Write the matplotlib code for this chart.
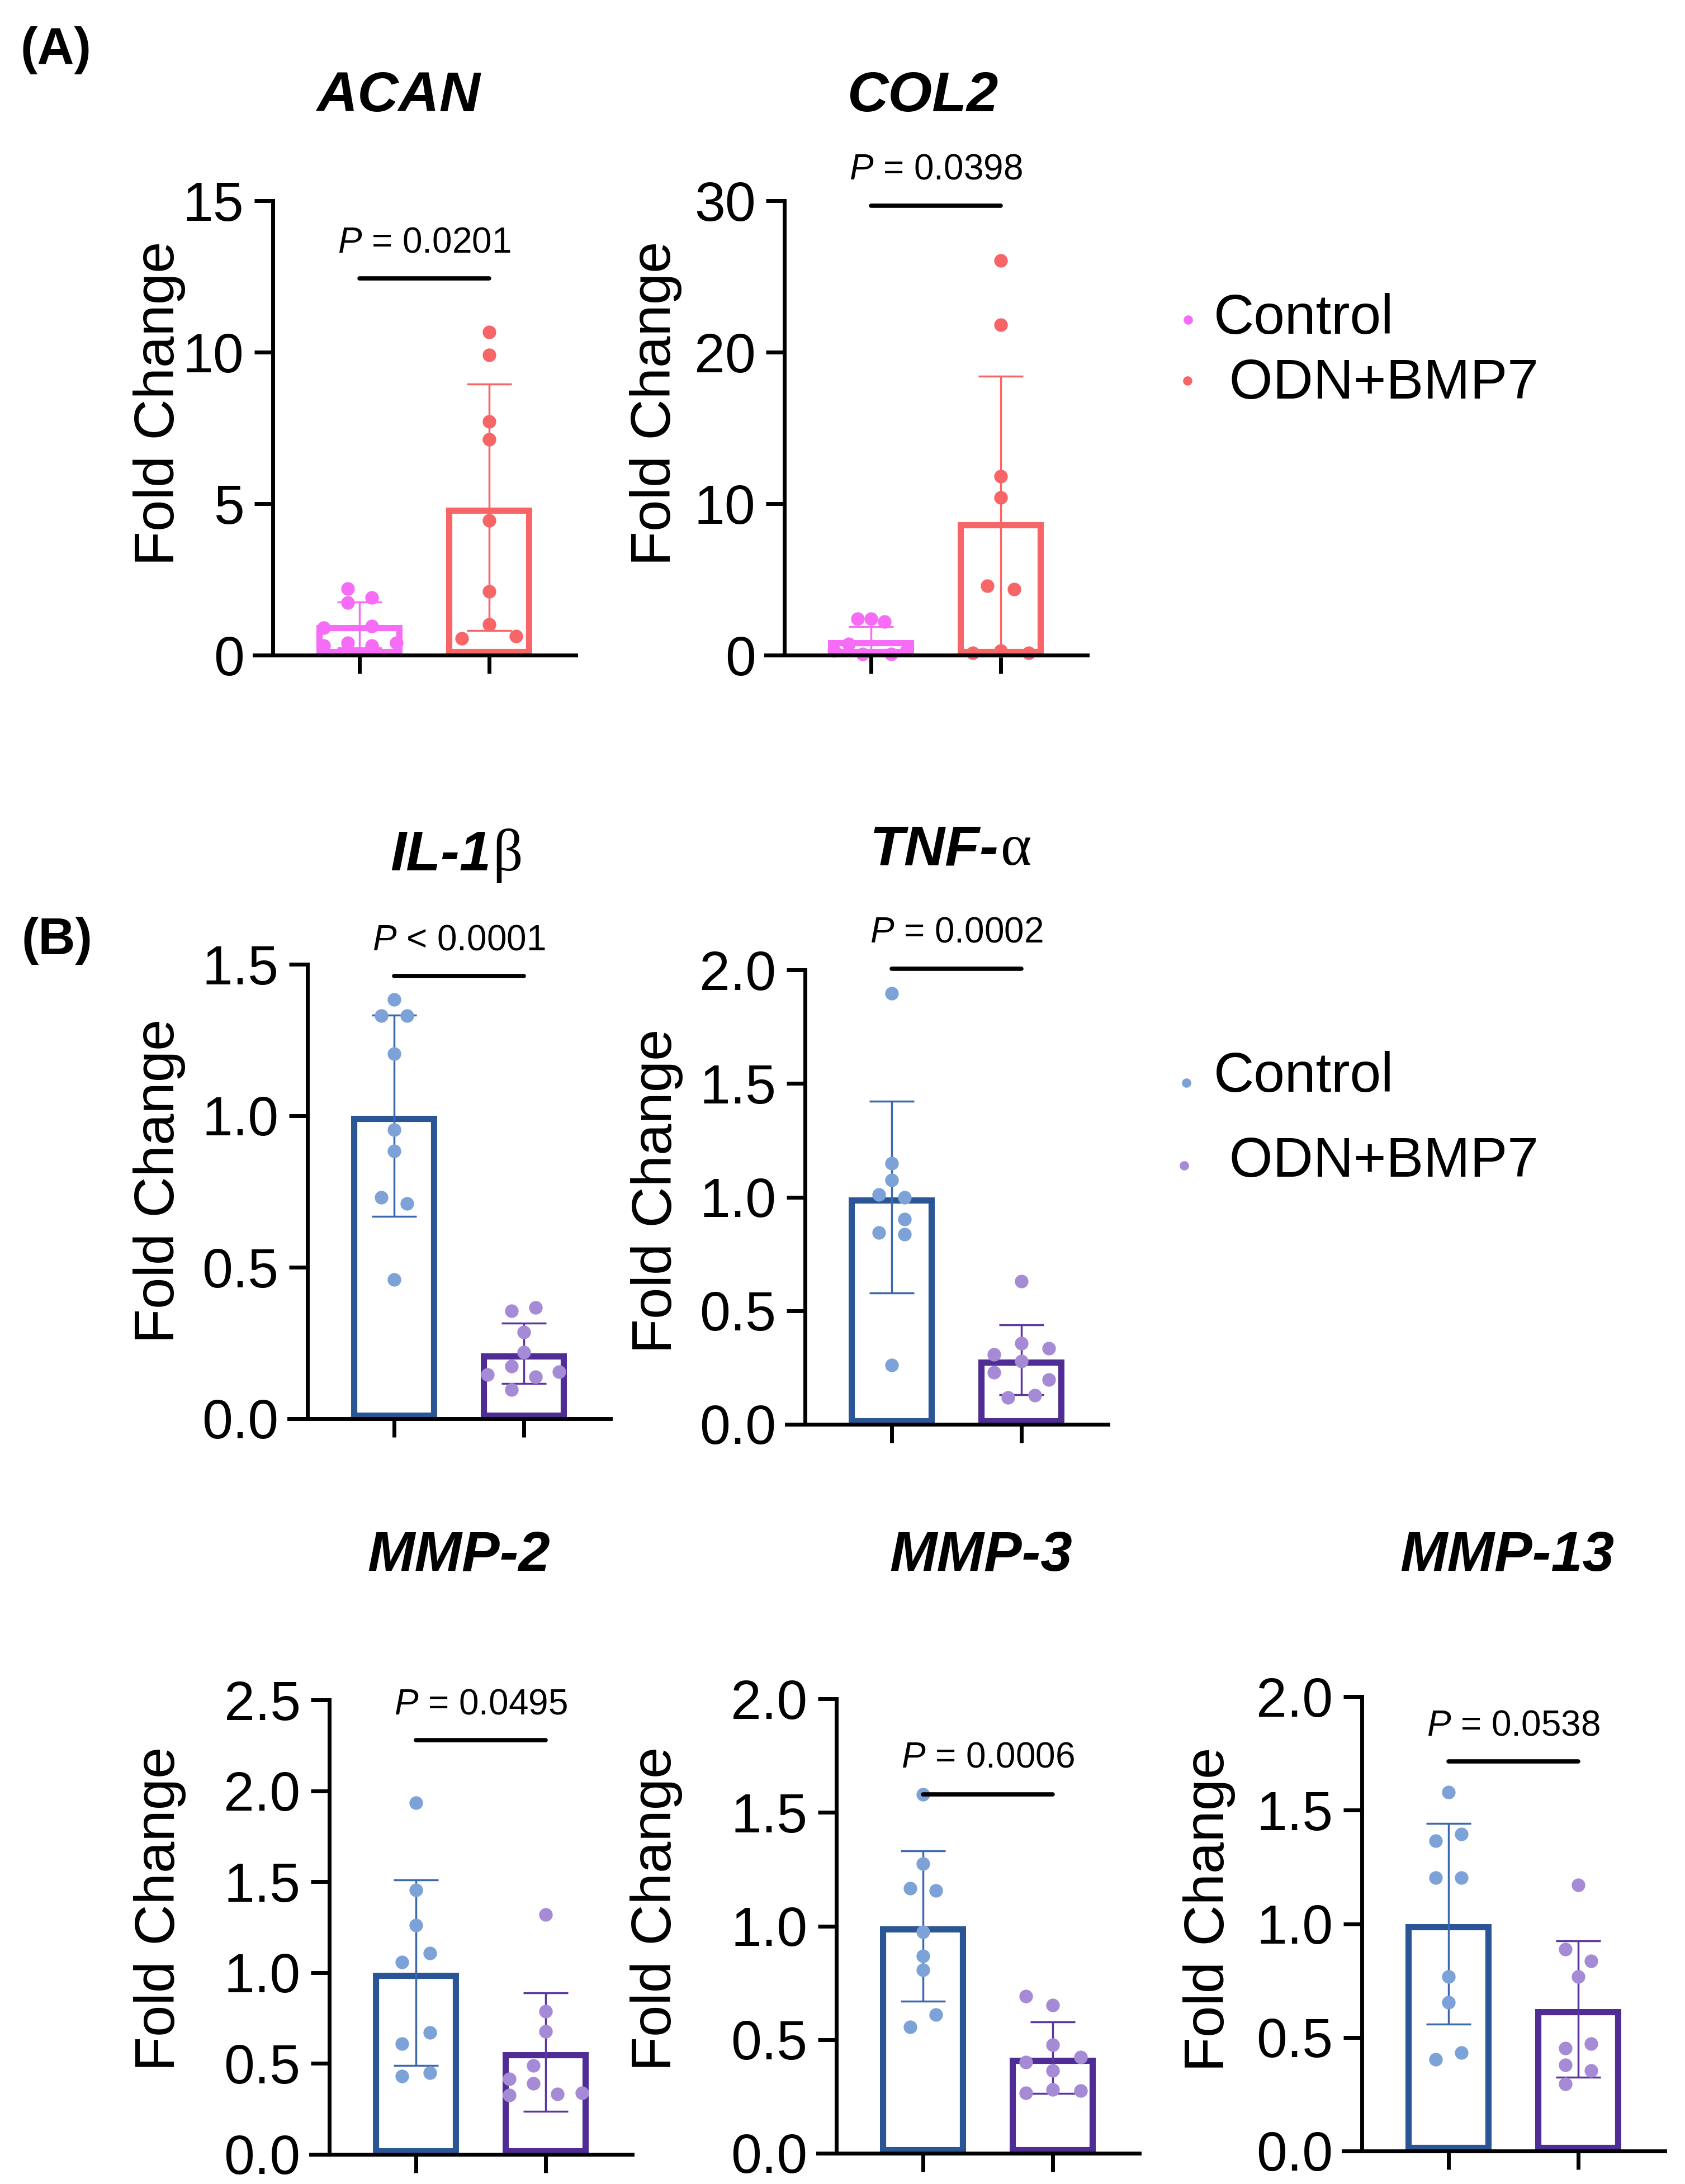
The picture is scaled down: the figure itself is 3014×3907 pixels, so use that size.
import matplotlib.pyplot as plt
from matplotlib.lines import Line2D

plt.rcParams['font.family'] = ['Liberation Sans', 'DejaVu Sans']
plt.rcParams['mathtext.fontset'] = 'custom'
plt.rcParams['mathtext.rm'] = 'Liberation Sans'
plt.rcParams['mathtext.it'] = 'Liberation Sans:italic'

W, H = 3014, 3907

# ---- data ----
genes = ['ACAN', 'COL2', 'IL-1', 'TNF-', 'MMP-2', 'MMP-3', 'MMP-13']
greek = ['', '', 'β', 'α', '', '', '']
p_text = ['$P$ = 0.0201', '$P$ = 0.0398', '$P$ < 0.0001', '$P$ = 0.0002',
          '$P$ = 0.0495', '$P$ = 0.0006', '$P$ = 0.0538']
groups = ['Control', ' ODN+BMP7']

ymax = [15, 30, 1.5, 2.0, 2.5, 2.0, 2.0]
yticks = [[0, 5, 10, 15], [0, 10, 20, 30], [0, 0.5, 1.0, 1.5], [0, 0.5, 1.0, 1.5, 2.0],
          [0, 0.5, 1.0, 1.5, 2.0, 2.5], [0, 0.5, 1.0, 1.5, 2.0], [0, 0.5, 1.0, 1.5, 2.0]]
yticklabels = [['0', '5', '10', '15'], ['0', '10', '20', '30'],
               ['0.0', '0.5', '1.0', '1.5'], ['0.0', '0.5', '1.0', '1.5', '2.0'],
               ['0.0', '0.5', '1.0', '1.5', '2.0', '2.5'],
               ['0.0', '0.5', '1.0', '1.5', '2.0'], ['0.0', '0.5', '1.0', '1.5', '2.0']]

ctrl_vals = [
    [2.2, 1.9, 1.73, 0.96, 0.9, 0.41, 0.31, 0.31, 0.41],
    [2.41, 2.41, 2.2, 0.74, 0.29, 0.09, 0.06, 0.35],
    [1.384, 1.331, 1.331, 1.204, 0.954, 0.883, 0.731, 0.71, 0.459],
    [1.897, 1.148, 1.076, 1.012, 1.0, 0.903, 0.843, 0.837, 0.26],
    [1.933, 1.453, 1.261, 1.059, 1.106, 0.67, 0.608, 0.431, 0.448],
    [1.579, 1.274, 1.166, 1.156, 0.973, 0.869, 0.806, 0.61, 0.555],
    [1.58, 1.366, 1.395, 1.202, 1.202, 0.768, 0.654, 0.404, 0.433],
]
ctrl_dx = [
    [-0.09, 0.095, -0.09, 0.095, -0.276, -0.09, 0.095, -0.276, 0.284],
    [-0.104, 0, 0.104, -0.173, -0.283, -0.063, 0.157, 0.275],
    [0, -0.1, 0.1, 0, 0, 0, -0.1, 0.1, 0],
    [0, 0, 0, -0.1, 0.1, 0.1, -0.1, 0.1, 0],
    [0, 0, 0, -0.106, 0.106, 0.106, -0.106, -0.106, 0.106],
    [0, 0, -0.1, 0.1, 0, 0, 0, 0.1, -0.1],
    [0, -0.1, 0.1, -0.1, 0.1, 0, 0, -0.1, 0.1],
]
odn_vals = [
    [10.66, 9.9, 7.72, 7.13, 4.44, 2.1, 1.02, 0.55, 0.62],
    [26.06, 21.8, 11.8, 10.4, 4.56, 4.35, 0.15, 0.3, 0.15],
    [0.357, 0.367, 0.286, 0.22, 0.174, 0.145, 0.138, 0.155, 0.096],
    [0.63, 0.357, 0.335, 0.307, 0.278, 0.23, 0.198, 0.119, 0.128],
    [1.318, 0.786, 0.677, 0.49, 0.39, 0.416, 0.325, 0.333, 0.337],
    [0.692, 0.653, 0.478, 0.4, 0.423, 0.364, 0.265, 0.281, 0.275],
    [1.172, 0.887, 0.837, 0.768, 0.453, 0.473, 0.378, 0.355, 0.296],
]
odn_dx = [
    [0, 0, 0, 0, 0, 0, 0, -0.21, 0.207],
    [0, 0, 0, 0, -0.104, 0.104, -0.214, 0, 0.214],
    [-0.096, 0.091, 0, 0, -0.096, -0.28, 0.091, 0.27, -0.096],
    [0, 0, 0.21, -0.21, 0, -0.21, 0.21, -0.104, 0.104],
    [0, 0, 0, -0.097, -0.097, -0.281, -0.281, 0.091, 0.281],
    [-0.206, 0, 0, -0.206, 0.214, 0, -0.206, 0, 0.214],
    [0, -0.1, 0.1, 0, -0.1, 0.1, -0.1, 0.1, -0.1],
]
means = [[1.0, 4.88], [1.0, 8.8], [1.0, 0.216], [1.0, 0.285],
         [1.0, 0.563], [1.0, 0.42], [1.0, 0.625]]
sds = [[0.76, 4.07], [0.9, 9.6], [0.333, 0.099], [0.423, 0.154],
       [0.51, 0.327], [0.33, 0.158], [0.442, 0.30]]
sig_y = [12.43, 29.65, 1.462, 2.004, 2.28, 1.579, 1.714]
p_y = [13.6, 32.06, 1.578, 2.164, 2.475, 1.74, 1.872]

# ---- layout (pixels in the 3014x3907 canvas) ----
ax_left = [488, 1403, 550, 1440, 589, 1496, 2436]
ax_bottom = [1172, 1172, 2538, 2548, 3854, 3852, 3848]
ax_w, ax_h = 542, 813
ylab_x = [311, 1199, 311, 1201, 312, 1200, 2189]
ylab_y = [722, 722, 2113, 2131, 3415, 3415, 3416]
title_x = [713, 1650, 878, 1787, 821, 1755, 2696]
title_y = [199, 199, 1557, 1547, 2810, 2810, 2810]

# colours: set A (pink / red), set B (blue / purple)
dot_cols = [['#F66CF6', '#F76567'], ['#7DA2D8', '#A58AD6']]
edge_cols = [['#F66CF6', '#F76567'], ['#2B5696', '#4F2D94']]
err_cols = [['#F66CF6', '#F76567'], ['#3C68AE', '#5A36A0']]


def fx(x):
    return x / W


def fy(y):
    return 1 - y / H


fig = plt.figure(figsize=(W / 100, H / 100), dpi=100)

xlo, xhi = -0.668, 1.668
for i, gene in enumerate(genes):
    cs = 0 if i < 2 else 1
    ax = fig.add_axes([fx(ax_left[i]), fy(ax_bottom[i]), ax_w / W, ax_h / H])
    ax.set_xlim(xlo, xhi)
    ax.set_ylim(0, ymax[i])

    # GraphPad draws the border inside the bar: clip a doubled stroke to the bar itself
    bars = ax.bar([0, 1], means[i], width=0.66, color='white',
                  edgecolor=edge_cols[cs], linewidth=16, zorder=2)
    for b in bars:
        b.set_clip_path(b)

    for j in range(2):
        ax.errorbar(j, means[i][j], yerr=sds[i][j], fmt='none', ecolor=err_cols[cs][j],
                    elinewidth=2.5, capsize=29, capthick=2.5, zorder=3)

    ax.scatter([0 + d for d in ctrl_dx[i]], ctrl_vals[i], s=17.5 ** 2, color=dot_cols[cs][0],
               linewidths=0, zorder=4, clip_on=False)
    ax.scatter([1 + d for d in odn_dx[i]], odn_vals[i], s=17.5 ** 2, color=dot_cols[cs][1],
               linewidths=0, zorder=4, clip_on=False)

    ax.plot([0, 1], [sig_y[i], sig_y[i]], color='black', lw=5.5,
            solid_capstyle='round', clip_on=False, zorder=5)
    ax.text(0.5, p_y[i], p_text[i], ha='center', va='center', fontsize=46, clip_on=False)

    for s in ['top', 'right']:
        ax.spines[s].set_visible(False)
    for s in ['left', 'bottom']:
        ax.spines[s].set_linewidth(5)
        ax.spines[s].set_zorder(6)
    ax.spines['bottom'].set_bounds(xlo - 0.142, xhi)
    ax.set_xticks([0, 1])
    ax.set_xticklabels([])
    ax.set_yticks(yticks[i])
    ax.set_yticklabels(yticklabels[i])
    ax.tick_params(axis='both', direction='out', length=24, width=5, labelsize=71, pad=13)
    ax.patch.set_visible(False)

    fig.text(fx(ylab_x[i]), fy(ylab_y[i]), 'Fold Change', rotation=90, rotation_mode='anchor',
             ha='center', va='baseline', fontsize=73)

    if greek[i]:
        fig.text(fx(title_x[i]), fy(title_y[i]), gene, ha='right', va='baseline',
                 fontsize=73, fontweight='bold', fontstyle='italic')
        fig.text(fx(title_x[i]) + 0.001, fy(title_y[i]), greek[i], ha='left', va='baseline',
                 fontsize=76, family='Liberation Serif')
    else:
        fig.text(fx(title_x[i]), fy(title_y[i]), gene, ha='center', va='baseline',
                 fontsize=73, fontweight='bold', fontstyle='italic')

# panel letters
fig.text(fx(100), fy(90), '(A)', ha='center', va='center', fontsize=66, fontweight='bold')
fig.text(fx(102), fy(1683), '(B)', ha='center', va='center', fontsize=66, fontweight='bold')

# legends
leg_marker_xy = [[(2125, 572), (2124, 681)], [(2122, 1937), (2118, 2085)]]
leg_text_y = [[571, 687], [1927, 2079]]
for cs in range(2):
    for j in range(2):
        mx, my = leg_marker_xy[cs][j]
        fig.add_artist(Line2D([fx(mx)], [fy(my)], marker='o', markersize=12, linestyle='none',
                              color=dot_cols[cs][j], markeredgewidth=0,
                              transform=fig.transFigure))
        fig.text(fx(2171), fy(leg_text_y[cs][j]), groups[j], ha='left', va='center',
                 fontsize=72)

fig.savefig('out.png', dpi=100)
